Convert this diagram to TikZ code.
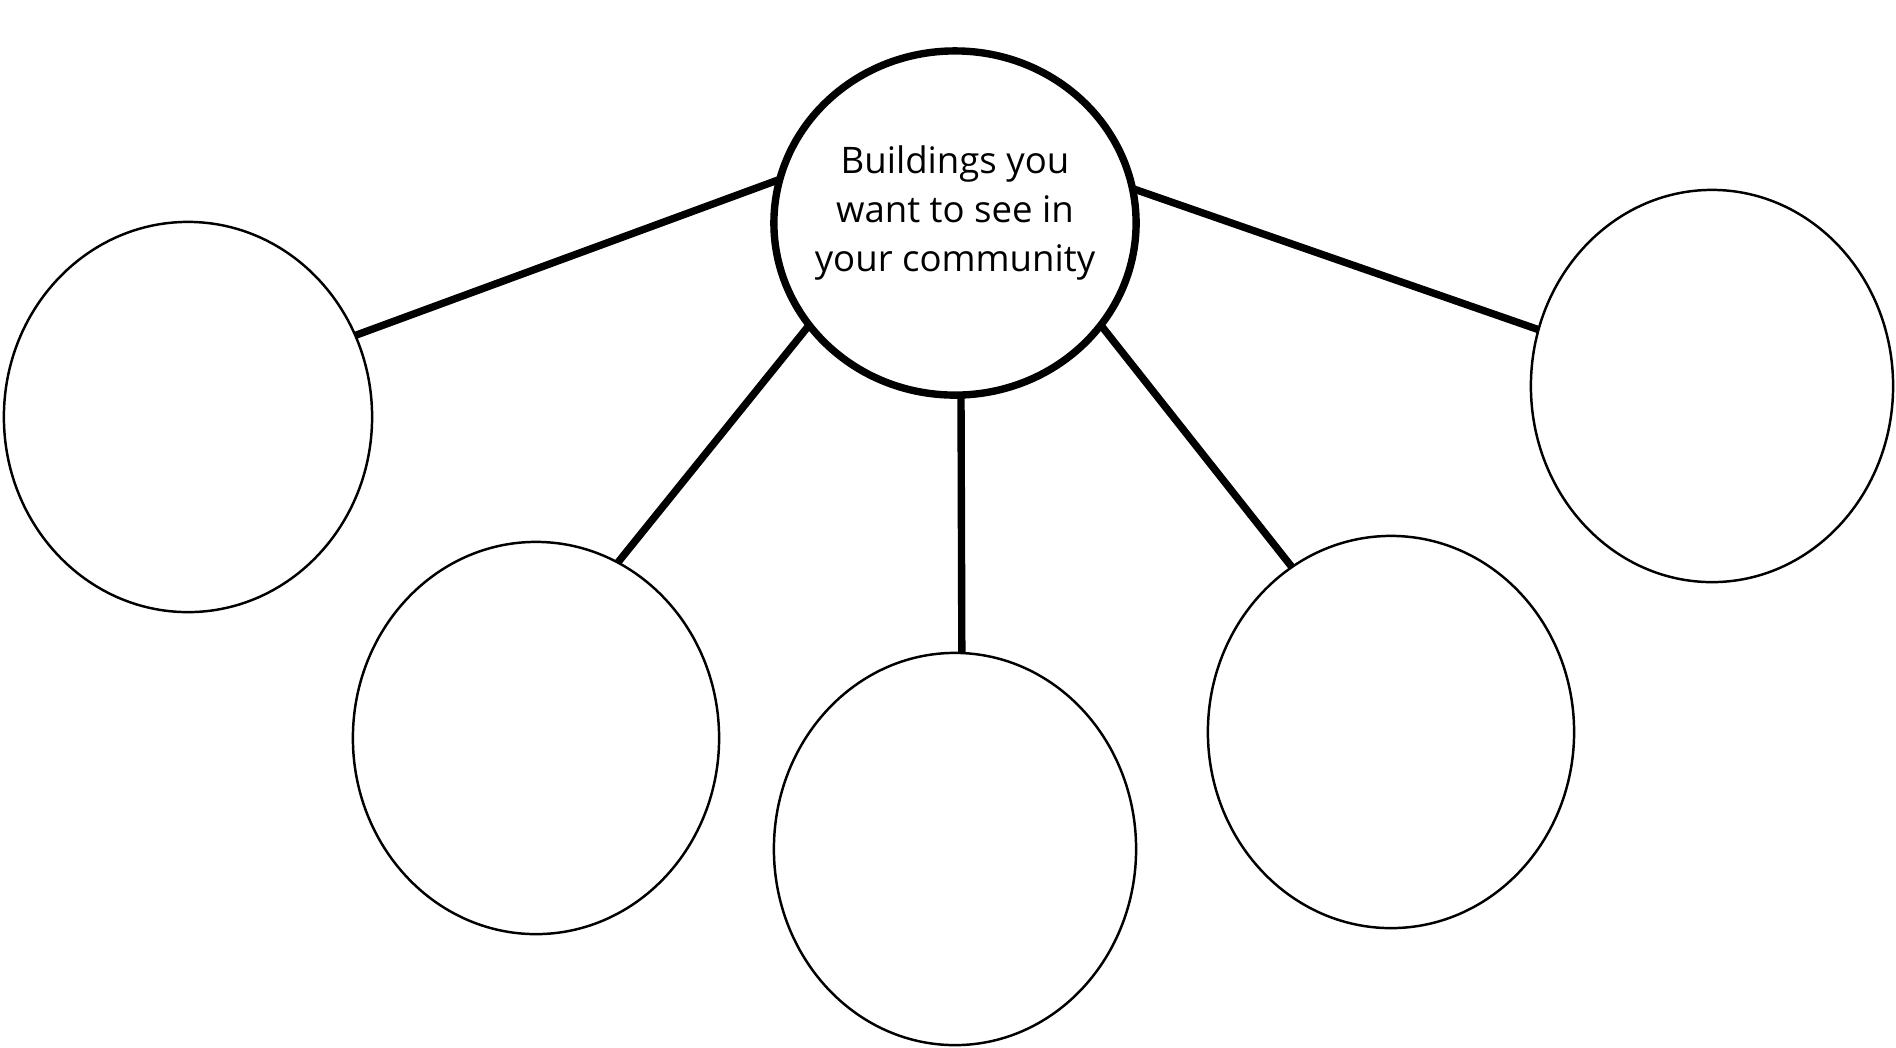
\documentclass[tikz,border=0pt]{standalone}
\usepackage{fontspec}
\setmainfont{Open Sans}
\usetikzlibrary{shapes}

\tikzset{
  bubble/.style={draw, ellipse, line width=0.7pt, inner sep=0pt, outer sep=0pt},
  hub/.style={draw, ellipse, line width=2.1pt, inner sep=0pt, outer sep=0pt},
  spoke/.style={line width=2.1pt}
}

\begin{document}
\begin{tikzpicture}[x=0.01cm, y=-0.01cm]

\useasboundingbox (0,0) rectangle (1896,1047);

\node (Hub) [hub, minimum width=3.62cm, minimum height=3.44cm,
  label={[align=center, font=\fontsize{10.4}{14}\selectfont, yshift=0.1cm]center:Buildings you\\want to see in\\your community}] at (955,223) {};

\node (Left) [bubble, minimum width=3.68cm, minimum height=3.90cm] at (188,417) {};
\node (LowLeft) [bubble, minimum width=3.66cm, minimum height=3.92cm] at (536,738) {};
\node (Bottom) [bubble, minimum width=3.62cm, minimum height=3.92cm] at (955,849) {};
\node (LowRight) [bubble, minimum width=3.66cm, minimum height=3.92cm] at (1391,732) {};
\node (Right) [bubble, minimum width=3.62cm, minimum height=3.92cm] at (1712,386) {};

\draw [spoke] (Hub.166) -- (Left.26);
\draw [spoke] (Hub.215) -- (LowLeft.65);
\draw [spoke] (Hub.272) -- (Bottom.88);
\draw [spoke] (Hub.325) -- (LowRight.121);
\draw [spoke] (Hub.11) -- (Right.162);

\end{tikzpicture}
\end{document}
